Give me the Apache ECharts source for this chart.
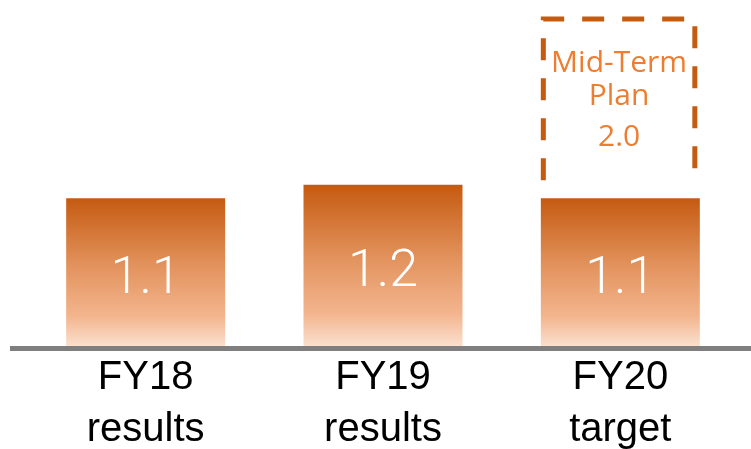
<!DOCTYPE html>
<html>
<head>
<meta charset="utf-8">
<script src="https://cdn.jsdelivr.net/npm/echarts@6/dist/echarts.min.js"></script>
<style>
  html, body { margin: 0; padding: 0; background: #fff; }
  #chart { width: 751px; height: 449px; }
</style>
</head>
<body>
<div id="chart"></div>
<script>
// data
var categories = ['FY18\nresults', 'FY19\nresults', 'FY20\ntarget'];
var values = [1.1, 1.2, 1.1];
var planLines = ['Mid-Term', 'Plan'];
var planValue = [2.0];
var planIndex = 2;

var chart = echarts.init(document.getElementById('chart'));

var orange = '#C55A11';
var barGradient = new echarts.graphic.LinearGradient(0, 0, 0, 1, [
    { offset: 0, color: '#C55A11' },
    { offset: 0.45, color: '#E2925C' },
    { offset: 0.8, color: '#F3B58E' },
    { offset: 1, color: '#FAE0CE' }
]);

var option = {
    animation: false,
    grid: { left: 27, right: 12, top: 10, bottom: 103, outerBoundsMode: 'none' },
    xAxis: {
        type: 'category',
        data: categories,
        axisLine: { show: false },
        axisTick: { show: false },
        axisLabel: {
            color: '#000',
            fontFamily: 'Liberation Sans',
            fontSize: 40,
            lineHeight: 52,
            margin: 6
        }
    },
    yAxis: {
        type: 'value',
        min: 0,
        max: 2.5,
        show: false,
        splitLine: { show: false }
    },
    graphic: [{
        type: 'rect',
        shape: { x: 10, y: 346, width: 741, height: 5 },
        style: { fill: '#7F7F7F' },
        z: 10
    }],
    series: [{
        type: 'bar',
        data: values,
        barWidth: 159,
        itemStyle: { color: barGradient },
        label: {
            show: true,
            position: 'inside',
            offset: [0, 8],
            color: '#fff',
            fontFamily: 'Roboto',
            fontWeight: 300,
            fontSize: 52
        }
    }, {
        // dashed "Mid-Term Plan" frame above the FY20 bar
        type: 'custom',
        data: planValue,
        renderItem: function (params, api) {
            var base = api.coord([planIndex, values[planIndex]]);
            var cs = params.coordSys;
            var half = 159 / 2;
            var l = base[0] - half + 2.5;
            var r = base[0] + half - 5;
            var bottom = base[1] - 18;
            var top = cs.y + 9;
            var cx = (l + r) / 2;
            var font = '30px "Open Sans"';
            return {
                type: 'group',
                children: [{
                    type: 'polyline',
                    shape: { points: [[l, bottom], [l, top], [r, top], [r, bottom]] },
                    style: { stroke: orange, lineWidth: 5, fill: null, lineDash: [22, 18] }
                }, {
                    type: 'text',
                    style: { text: planLines[0], x: cx, y: top + 44, align: 'center', verticalAlign: 'middle', fill: '#ED7D31', font: font }
                }, {
                    type: 'text',
                    style: { text: planLines[1], x: cx, y: top + 77, align: 'center', verticalAlign: 'middle', fill: '#ED7D31', font: font }
                }, {
                    type: 'text',
                    style: { text: api.value(0).toFixed(1), x: cx, y: top + 118, align: 'center', verticalAlign: 'middle', fill: '#ED7D31', font: font }
                }]
            };
        },
        encode: { y: 0 }
    }]
};

chart.setOption(option);
</script>
</body>
</html>
